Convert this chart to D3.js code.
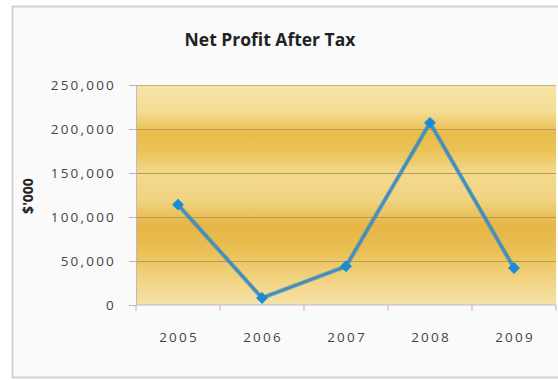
<!DOCTYPE html>
<html>
<head>
<meta charset="utf-8">
<script src="https://cdn.jsdelivr.net/npm/d3@7"></script>
<style>
  html, body { margin: 0; padding: 0; background: #ffffff; }
  svg { display: block; }
</style>
</head>
<body>
<svg id="chart" width="558" height="380"></svg>
<script>
// Net profit after tax by year, in $'000
const years = ["2005", "2006", "2007", "2008", "2009"];
const profit = [114000, 8000, 44000, 207000, 42000];
const yTicks = [0, 50000, 100000, 150000, 200000, 250000];

const svg = d3.select("#chart");
const W = 558, H = 380;
const plot = { left: 136, right: 556, top: 85, bottom: 305 };

// chart frame
svg.append("rect")
  .attr("x", 12.5).attr("y", 6.5)
  .attr("width", W + 10).attr("height", 371)
  .attr("fill", "#fafafa")
  .attr("stroke", "#d2d2d2").attr("stroke-width", 2);

const x = d3.scaleBand().domain(years).range([plot.left, plot.right]);
const y = d3.scaleLinear().domain([0, 250000]).range([plot.bottom, plot.top]);

// banded gold fill for the plot area
const defs = svg.append("defs");
const grad = defs.append("linearGradient")
  .attr("id", "gold").attr("x1", 0).attr("y1", 0).attr("x2", 0).attr("y2", 1);
[
  [0.00, "#f7e4a8"], [0.12, "#f4dc92"], [0.22, "#e8bc4c"], [0.30, "#eac256"],
  [0.40, "#f3d98e"], [0.52, "#f1d382"], [0.64, "#e6b546"], [0.74, "#e9be52"],
  [0.88, "#f1d27f"], [1.00, "#f6e3ab"]
].forEach(([o, c]) => grad.append("stop").attr("offset", o).attr("stop-color", c));

svg.append("rect")
  .attr("x", plot.left).attr("y", plot.top)
  .attr("width", plot.right - plot.left).attr("height", plot.bottom - plot.top)
  .attr("fill", "url(#gold)");

// horizontal gridlines
svg.append("g")
  .selectAll("line")
  .data(yTicks.slice(1))
  .join("line")
  .attr("x1", plot.left).attr("x2", plot.right)
  .attr("y1", d => Math.round(y(d)) + 0.5).attr("y2", d => Math.round(y(d)) + 0.5)
  .attr("stroke", d => d === 250000 ? "#c9b27a" : "#b99a4e")
  .attr("stroke-width", 1.2);

// y axis
const yAxis = svg.append("g")
  .attr("transform", `translate(${plot.left},0)`)
  .call(d3.axisLeft(y).tickValues(yTicks).tickSize(7).tickPadding(13)
    .tickFormat(d3.format(",")));
yAxis.select(".domain").attr("stroke", "#c4b4c4");
yAxis.selectAll(".tick line").attr("stroke", "#bfb2bf");
yAxis.selectAll("text")
  .attr("fill", "#444")
  .style("font-family", "'Open Sans', sans-serif")
  .style("font-size", "13.5px")
  .style("letter-spacing", "2.2px");

// x axis: ticks at band boundaries
const xAxisG = svg.append("g")
  .attr("transform", `translate(0,${plot.bottom})`);
xAxisG.append("line")
  .attr("x1", plot.left).attr("x2", plot.right)
  .attr("stroke", "#c4b4c4");
const bounds = years.map(d => x(d)).concat([plot.right]);
xAxisG.selectAll("line.tk")
  .data(bounds)
  .join("line").attr("class", "tk")
  .attr("x1", d => d).attr("x2", d => d)
  .attr("y1", 0).attr("y2", 6)
  .attr("stroke", "#bfb2bf");
xAxisG.selectAll("text")
  .data(years)
  .join("text")
  .attr("x", d => x(d) + x.bandwidth() / 2 + 1)
  .attr("y", 37)
  .attr("text-anchor", "middle")
  .attr("fill", "#444")
  .style("font-family", "'Open Sans', sans-serif")
  .style("font-size", "13.5px")
  .style("letter-spacing", "2.2px")
  .text(d => d);

// title
svg.append("text")
  .attr("x", 270).attr("y", 46)
  .attr("text-anchor", "middle")
  .attr("fill", "#222")
  .style("font-family", "'Open Sans', sans-serif")
  .style("font-weight", "bold")
  .style("font-size", "17.5px")
  .text("Net Profit After Tax");

// y axis title
svg.append("text")
  .attr("transform", "translate(33,196) rotate(-90)")
  .attr("text-anchor", "middle")
  .attr("fill", "#222")
  .style("font-family", "'Open Sans', sans-serif")
  .style("font-weight", "bold")
  .style("font-size", "14px")
  .text("$'000");

// profit line
const pts = years.map((d, i) => [x(d) + x.bandwidth() / 2, y(profit[i])]);
const line = d3.line();
svg.append("path")
  .attr("d", line(pts))
  .attr("fill", "none")
  .attr("stroke", "#2f6f9a")
  .attr("stroke-width", 4.5)
  .attr("stroke-opacity", 0.35)
  .attr("stroke-linejoin", "round");
svg.append("path")
  .attr("d", line(pts))
  .attr("fill", "none")
  .attr("stroke", "#3d90c6")
  .attr("stroke-width", 3)
  .attr("stroke-linejoin", "round");

// diamond markers
svg.append("g")
  .selectAll("path")
  .data(pts)
  .join("path")
  .attr("transform", d => `translate(${d[0]},${d[1]})`)
  .attr("d", d3.symbol(d3.symbolDiamond2, 90))
  .attr("fill", "#1c8bd6");
</script>
</body>
</html>
